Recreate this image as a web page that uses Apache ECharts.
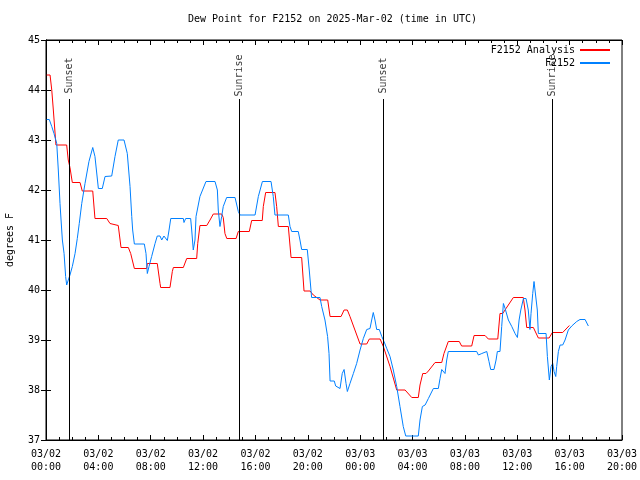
<!DOCTYPE html>
<html>
<head>
<meta charset="utf-8">
<script src="https://cdn.jsdelivr.net/npm/echarts@6/dist/echarts.min.js"></script>
<style>html,body{margin:0;padding:0;background:#fff}#c{width:640px;height:480px}</style>
</head>
<body>
<div id="c"></div>
<script>
// Hours since 03/02 00:00 UTC
var xTickLabels = ['03/02\n00:00','03/02\n04:00','03/02\n08:00','03/02\n12:00','03/02\n16:00','03/02\n20:00',
                   '03/03\n00:00','03/03\n04:00','03/03\n08:00','03/03\n12:00','03/03\n16:00','03/03\n20:00'];
var yTicks = [37, 38, 39, 40, 41, 42, 43, 44, 45];

var analysisHours = [0.05,0.31,0.44,0.56,0.76,1.58,1.70,1.83,2.01,2.60,2.77,3.57,3.74,4.64,4.89,5.02,5.52,5.73,6.29,6.47,6.75,7.69,7.74,8.50,8.71,8.76,9.47,9.65,9.73,10.49,10.75,11.51,11.59,11.76,12.28,12.53,12.78,13.42,13.54,13.67,13.81,14.52,14.69,15.53,15.71,16.52,16.60,16.78,17.49,17.62,17.75,18.51,18.72,19.53,19.71,20.17,20.42,20.93,21.52,21.70,22.54,22.77,23.02,23.22,23.99,24.50,24.70,25.52,25.77,26.28,26.79,27.43,27.94,28.44,28.57,28.78,29.03,29.21,29.72,30.23,30.40,30.73,31.57,31.75,32.52,32.70,33.54,33.79,34.51,34.68,34.89,35.14,35.70,36.46,36.59,36.72,37.23,37.61,38.43,38.68,39.47,39.98];
var analysisValues = [44.3,44.3,44.0,43.6,42.9,42.9,42.6,42.45,42.15,42.15,41.98,41.98,41.43,41.43,41.33,41.29,41.29,40.85,40.85,40.73,40.43,40.43,40.53,40.53,40.13,40.05,40.05,40.37,40.45,40.45,40.63,40.63,40.93,41.29,41.29,41.4,41.52,41.52,41.45,41.13,41.03,41.03,41.17,41.17,41.39,41.39,41.67,41.95,41.95,41.67,41.27,41.27,40.65,40.65,39.98,39.98,39.9,39.8,39.8,39.47,39.47,39.6,39.6,39.47,38.92,38.92,39.02,39.02,38.87,38.47,38.0,38.0,37.85,37.85,38.1,38.33,38.33,38.38,38.55,38.55,38.73,38.97,38.97,38.88,38.88,39.09,39.09,39.02,39.02,39.53,39.53,39.63,39.85,39.85,39.6,39.25,39.25,39.04,39.04,39.15,39.15,39.29];

var obsHours = [0.05,0.25,0.44,0.61,0.82,0.94,1.07,1.15,1.25,1.38,1.50,1.58,1.70,1.83,2.01,2.22,2.39,2.54,2.73,2.98,3.28,3.57,3.74,4.00,4.30,4.51,5.02,5.27,5.52,5.96,6.21,6.42,6.55,6.62,6.75,7.51,7.64,7.74,7.87,8.07,8.33,8.50,8.71,8.84,9.01,9.27,9.40,9.53,10.49,10.54,10.67,11.05,11.13,11.25,11.38,11.46,11.76,12.22,12.91,13.09,13.16,13.29,13.42,13.54,13.80,14.44,14.69,14.82,15.97,16.22,16.53,17.19,17.36,17.49,18.51,18.64,18.77,19.27,19.40,19.53,19.96,20.11,20.29,20.93,21.06,21.31,21.51,21.62,21.70,22.02,22.13,22.46,22.63,22.77,22.92,23.02,23.22,23.48,23.73,23.99,24.24,24.50,24.75,24.88,25.00,25.13,25.26,25.46,25.65,25.82,26.03,26.28,26.53,26.79,27.04,27.29,27.48,28.44,28.57,28.75,28.96,29.21,29.59,29.97,30.10,30.23,30.48,30.61,30.73,32.90,33.03,33.29,33.67,33.84,33.97,34.22,34.38,34.48,34.68,34.81,34.94,35.07,35.32,35.58,35.83,36.01,36.14,36.27,36.47,36.67,36.84,36.97,37.05,37.18,37.28,37.43,37.53,37.61,38.20,38.30,38.45,38.58,38.71,38.81,38.94,39.01,39.14,39.27,39.47,39.65,39.90,40.16,40.54,40.79,41.18,41.43];
var obsValues = [43.41,43.41,43.27,43.13,42.93,42.4,41.73,41.4,41.0,40.73,40.27,40.1,40.2,40.3,40.47,40.73,41.03,41.33,41.73,42.13,42.57,42.85,42.67,42.03,42.03,42.27,42.28,42.67,43.0,43.0,42.73,42.07,41.47,41.2,40.92,40.92,40.73,40.33,40.47,40.67,40.93,41.08,41.08,41.0,41.08,40.99,41.2,41.43,41.43,41.35,41.43,41.43,41.2,40.8,41.0,41.47,41.87,42.17,42.17,42.0,41.6,41.27,41.47,41.67,41.85,41.85,41.57,41.5,41.5,41.87,42.17,42.17,41.87,41.5,41.5,41.27,41.17,41.17,41.0,40.81,40.81,40.4,39.85,39.85,39.67,39.4,39.07,38.73,38.18,38.18,38.08,38.03,38.33,38.41,38.13,37.97,38.13,38.33,38.53,38.8,39.03,39.21,39.23,39.4,39.55,39.4,39.21,39.21,39.07,38.97,38.83,38.67,38.4,38.07,37.67,37.27,37.08,37.08,37.4,37.67,37.7,37.83,38.03,38.03,38.23,38.41,38.33,38.6,38.77,38.77,38.7,38.73,38.77,38.57,38.41,38.41,38.6,38.77,38.77,39.27,39.73,39.63,39.4,39.27,39.13,39.05,39.4,39.6,39.83,39.83,39.6,39.21,39.53,39.93,40.17,40.13,39.6,39.13,39.13,38.67,38.2,38.47,38.53,38.37,38.27,38.47,38.77,38.9,38.9,39.0,39.2,39.28,39.37,39.41,39.41,39.28];

var sunHours = [1.77, 14.77, 25.77, 38.68];
var sunLabels = ['Sunset', 'Sunrise', 'Sunset', 'Sunrise'];
var sunLineTop = 43.82;
var sunLabelY = 44.27;

function zip(a, b) { return a.map(function (v, i) { return [v, b[i]]; }); }

var FONT = 'DejaVu Sans Mono';
var chart = echarts.init(document.getElementById('c'), null, { renderer: 'canvas' });

var tickCommon = { show: true, inside: true, length: 5, lineStyle: { color: '#000', width: 1 } };
var minorCommon = { show: true, splitNumber: 4, length: 3, lineStyle: { color: '#000', width: 1 } };

chart.setOption({
  animation: false,
  backgroundColor: '#fff',
  title: {
    text: 'Dew Point for F2152 on 2025-Mar-02 (time in UTC)',
    left: 188, top: 14, padding: 0,
    textStyle: { fontFamily: FONT, fontSize: 10, fontWeight: 'normal', color: '#000' }
  },
  legend: {
    orient: 'vertical', right: 30, top: 44, align: 'right', padding: 0, itemGap: 1,
    itemWidth: 30, itemHeight: 2, icon: 'rect',
    textStyle: { fontFamily: FONT, fontSize: 10, color: '#000', lineHeight: 12 },
    data: ['F2152 Analysis', 'F2152']
  },
  grid: { left: 46, right: 18, top: 40, bottom: 40, show: true, borderColor: '#000', borderWidth: 1,
          containLabel: false, outerBoundsMode: 'none' },
  xAxis: [{
    type: 'value', min: 0, max: 44, interval: 4, position: 'bottom',
    axisLine: { show: true, lineStyle: { color: '#000' } },
    axisTick: tickCommon, minorTick: minorCommon,
    splitLine: { show: false },
    axisLabel: {
      fontFamily: FONT, fontSize: 10, color: '#000', margin: 8, lineHeight: 13,
      formatter: function (v) { return xTickLabels[Math.round(v / 4)]; }
    }
  }, {
    type: 'value', min: 0, max: 44, interval: 4, position: 'top',
    axisLine: { show: true, lineStyle: { color: '#000' } },
    axisTick: tickCommon, minorTick: minorCommon,
    splitLine: { show: false }, axisLabel: { show: false }
  }],
  yAxis: [{
    type: 'value', min: yTicks[0], max: yTicks[yTicks.length - 1], interval: 1, position: 'left',
    name: 'degrees F', nameLocation: 'middle', nameGap: 31, nameRotate: 90,
    nameTextStyle: { fontFamily: FONT, fontSize: 10, color: '#000' },
    axisLine: { show: true, lineStyle: { color: '#000' } },
    axisTick: tickCommon, splitLine: { show: false },
    axisLabel: { fontFamily: FONT, fontSize: 10, color: '#000', margin: 6 }
  }, {
    type: 'value', min: yTicks[0], max: yTicks[yTicks.length - 1], interval: 1, position: 'right',
    axisLine: { show: true, lineStyle: { color: '#000' } },
    axisTick: tickCommon, splitLine: { show: false }, axisLabel: { show: false }
  }],
  series: [{
    name: 'F2152 Analysis', type: 'line', data: zip(analysisHours, analysisValues),
    showSymbol: false, symbol: 'none', color: '#ff0000',
    lineStyle: { color: '#ff0000', width: 1 }, z: 3
  }, {
    name: 'F2152', type: 'line', data: zip(obsHours, obsValues),
    showSymbol: false, symbol: 'none', color: '#0080ff',
    lineStyle: { color: '#0080ff', width: 1 }, z: 4
  }, {
    name: 'sun', type: 'line', data: [], silent: true,
    markLine: {
      silent: true, symbol: ['none', 'none'], label: { show: false },
      lineStyle: { color: '#000', width: 1, type: 'solid' },
      data: sunHours.map(function (h) { return [{ coord: [h, yTicks[0]] }, { coord: [h, sunLineTop] }]; })
    }, z: 5
  }, {
    name: 'sunLabels', type: 'scatter', symbolSize: 0, silent: true,
    data: sunHours.map(function (h, i) { return { value: [h, sunLabelY], name: sunLabels[i] }; }),
    label: {
      show: true, position: 'inside', rotate: 90, formatter: '{b}',
      fontFamily: FONT, fontSize: 10, color: '#000', offset: [1, 0]
    }, z: 5
  }]
});
</script>
</body>
</html>
